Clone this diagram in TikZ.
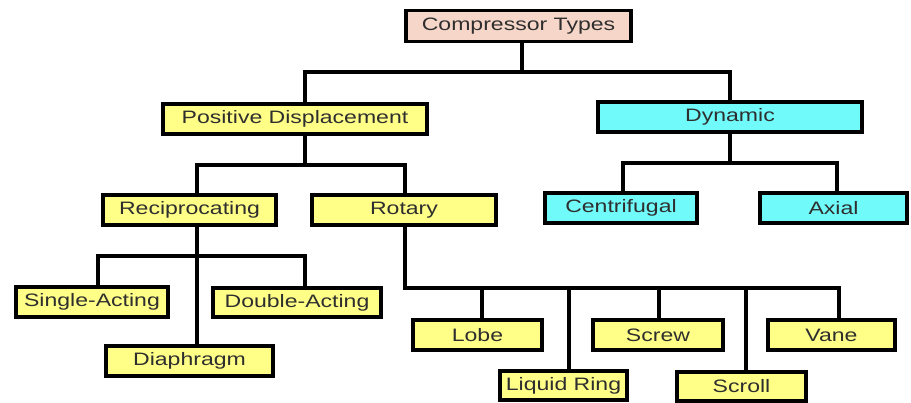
\documentclass[tikz,border=0pt]{standalone}
\usepackage{fontspec}
\setmainfont{Liberation Sans}[FakeStretch=1.28]
\begin{document}
\begin{tikzpicture}[x=1pt,y=-1pt,
  box/.style={draw=black, line width=3.2pt, inner sep=0pt, text=txtgray,
    font=\fontsize{18}{20}\selectfont},
  yel/.style={box, fill=boxyellow},
  cya/.style={box, fill=boxcyan},
  pnk/.style={box, fill=boxpink},
  conn/.style={draw=black, line width=3.2pt, line cap=rect}]
\definecolor{boxyellow}{HTML}{FFFF88}
\definecolor{boxcyan}{HTML}{70FAFA}
\definecolor{boxpink}{HTML}{F6D6C8}
\definecolor{txtgray}{HTML}{2E2E2E}
\fill[white] (0,0) rectangle (911,402);
\useasboundingbox (0,0) rectangle (911,402);
% nodes: center, size
\node[pnk, minimum width=225pt, minimum height=31pt] (ct) at (518.5,26) {Compressor Types};
\node[yel, minimum width=264pt, minimum height=30pt] (pd) at (295,119) {Positive Displacement};
\node[cya, minimum width=264pt, minimum height=30pt] (dyn) at (730,117) {Dynamic};
\node[yel, minimum width=173pt, minimum height=30pt] (rec) at (189.5,210) {Reciprocating};
\node[yel, minimum width=184pt, minimum height=30pt] (rot) at (404,210) {Rotary};
\node[cya, minimum width=152pt, minimum height=30pt] (cen) at (621,208) {Centrifugal};
\node[cya, minimum width=147pt, minimum height=30pt] (ax) at (833.5,208) {Axial};
\node[yel, minimum width=152pt, minimum height=30pt] (sa) at (92,302) {Single-Acting};
\node[yel, minimum width=168pt, minimum height=29pt] (da) at (297,302.5) {Double-Acting};
\node[yel, minimum width=167pt, minimum height=30pt] (dia) at (189.5,361) {Diaphragm};
\node[yel, minimum width=129pt, minimum height=30pt] (lobe) at (477.5,335) {Lobe};
\node[yel, minimum width=127pt, minimum height=29pt] (lr) at (563.5,385.5) {Liquid Ring};
\node[yel, minimum width=130pt, minimum height=30pt] (screw) at (658,335) {Screw};
\node[yel, minimum width=129pt, minimum height=29pt] (scroll) at (741.5,386.5) {Scroll};
\node[yel, minimum width=127pt, minimum height=30pt] (vane) at (831.5,335) {Vane};
% junction coordinates
\coordinate (s0) at (522,72);
\coordinate (s1) at (305,72);
\coordinate (s2) at (730,72);
\coordinate (r0) at (305,165);
\coordinate (r1) at (197,165);
\coordinate (r2) at (405,165);
\coordinate (d0) at (730,163);
\coordinate (d1) at (623,163);
\coordinate (d2) at (837,163);
\coordinate (a1) at (98,256);
\coordinate (a2) at (305,256);
\coordinate (q0) at (405,288);
\coordinate (ql) at (482,288);
\coordinate (qr) at (569,288);
\coordinate (qs) at (659,288);
\coordinate (qc) at (746,288);
\coordinate (qv) at (839,288);
% connectors
\draw[conn] (s0 |- ct.south) -- (s0);
\draw[conn] (s1 |- pd.north) -- (s1) -- (s2) -- (s2 |- dyn.north);
\draw[conn] (r0 |- pd.south) -- (r0);
\draw[conn] (r1 |- rec.north) -- (r1) -- (r2) -- (r2 |- rot.north);
\draw[conn] (d0 |- dyn.south) -- (d0);
\draw[conn] (d1 |- cen.north) -- (d1) -- (d2) -- (d2 |- ax.north);
\draw[conn] (r1 |- rec.south) -- (r1 |- dia.north);
\draw[conn] (a1 |- sa.north) -- (a1) -- (a2) -- (a2 |- da.north);
\draw[conn] (q0 |- rot.south) -- (q0) -- (qv) -- (qv |- vane.north);
\draw[conn] (ql) -- (ql |- lobe.north);
\draw[conn] (qr) -- (qr |- lr.north);
\draw[conn] (qs) -- (qs |- screw.north);
\draw[conn] (qc) -- (qc |- scroll.north);
\end{tikzpicture}
\end{document}
